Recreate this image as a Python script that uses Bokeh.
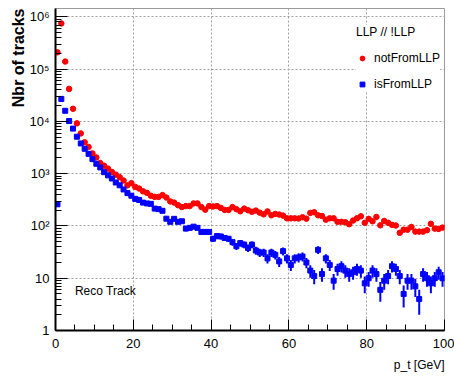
import math

from bokeh.embed import file_html
from bokeh.models import (ColumnDataSource, CustomJSTickFormatter, FixedTicker,
                          Label, Legend, LegendItem, Title)
from bokeh.plotting import figure
from bokeh.resources import INLINE

# Track p_t histograms, 1 GeV bins from 0 to 100 GeV
bin_low = list(range(100))

not_from_llp = [
    210000, 750000, 140000, 42000, 17500, 9200, 5900, 4000, 3250, 2450,
    2050, 1600, 1420, 1250, 1080, 960, 860, 740, 600, 660,
    560, 520, 460, 430, 380, 360, 360, 390, 350, 295,
    280, 250, 230, 240, 240, 270, 270, 230, 205, 240,
    236, 240, 222, 203, 203, 230, 210, 191, 215, 200,
    187, 197, 180, 167, 190, 160, 170, 165, 158, 140,
    140, 140, 139, 147, 138, 178, 183, 160, 155, 132,
    140, 140, 120, 120, 118, 108, 127, 140, 153, 115,
    137, 123, 149, 103, 125, 115, 105, 102, 74, 85,
    85, 96, 78, 78, 78, 83, 110, 89, 88, 93,
]

is_from_llp = [
    260, 27000, 16000, 10200, 7300, 5100, 3800, 3000, 2400, 1900,
    1550, 1320, 1070, 930, 810, 680, 600, 500, 425, 380,
    330, 315, 280, 270, 265, 215, 210, 195, 138, 120,
    137, 120, 123, 89, 92, 97, 92, 77, 77, 77,
    57, 64, 63, 59, 57, 49, 41, 47, 44, 38,
    44, 34, 31, 31, 24, 31, 28, 21, 33, 24,
    18, 24, 25, 26, 20, 14, 11, 35, 12, 24,
    18, 9, 15, 17, 14, 12, 13, 15, 14, 8,
    10, 14, 12, 6, 9, 11, 17, 15, 11, 5,
    9, 9, 7, 4, 12, 10, 8, 10, 13, 10,
]

x_ticks = [0, 20, 40, 60, 80, 100]
y_ticks = [1, 10, 100, 1000, 10000, 100000, 1000000]

FONT = "Liberation Sans"


def hist_source(counts):
    centers = [b + 0.5 for b in bin_low]
    err = [math.sqrt(c) for c in counts]
    return ColumnDataSource(dict(
        x=centers,
        y=counts,
        lo=[c - e for c, e in zip(counts, err)],
        hi=[c + e for c, e in zip(counts, err)],
    ))


p = figure(
    width=454, height=377,
    x_range=(0, 100), y_range=(1, 1.45e6),
    y_axis_type="log",
    output_backend="svg", toolbar_location=None,
    min_border_left=55, min_border_right=10,
    min_border_top=8, min_border_bottom=46,
    background_fill_color="white", border_fill_color="white",
)

p.outline_line_color = "#9a9a9a"
p.outline_line_width = 1

# axes in the ROOT style: ticks pointing into the frame
for ax in (p.xaxis, p.yaxis):
    ax.axis_line_width = 2
    ax.axis_line_color = "black"
    ax.major_tick_out = 0
    ax.minor_tick_out = 0
    ax.major_tick_line_color = "black"
    ax.minor_tick_line_color = "black"
    ax.major_label_text_font = FONT
    ax.major_label_text_font_size = "13px"
    ax.major_label_text_color = "black"

p.xaxis.major_tick_in = 11
p.xaxis.minor_tick_in = 6
p.xaxis.ticker = FixedTicker(ticks=x_ticks,
                             minor_ticks=[v for v in range(0, 101, 5)])
p.xaxis.major_label_standoff = 8

minor_y = [k * 10 ** d for d in range(0, 7) for k in range(2, 10)]
p.yaxis.major_tick_in = 12
p.yaxis.minor_tick_in = 6
p.yaxis.ticker = FixedTicker(ticks=y_ticks, minor_ticks=minor_y)
p.yaxis.major_label_standoff = 6
p.yaxis.formatter = CustomJSTickFormatter(code="""
    const e = Math.round(Math.log10(tick));
    if (e === 0) return "1";
    if (e === 1) return "10";
    const sup = {"0": "\u2070", "1": "\u00b9", "2": "\u00b2", "3": "\u00b3",
                 "4": "\u2074", "5": "\u2075", "6": "\u2076", "7": "\u2077",
                 "8": "\u2078", "9": "\u2079"};
    return "10" + String(e).split("").map(c => sup[c]).join("");
""")

for g in (p.xgrid, p.ygrid):
    g.grid_line_color = "#a0a0a0"
    g.grid_line_dash = "2 2"
    g.grid_line_width = 1
p.ygrid.ticker = FixedTicker(ticks=y_ticks)
p.xgrid.ticker = FixedTicker(ticks=x_ticks)

# axis titles, right-aligned as in ROOT
p.add_layout(Title(text="Nbr of tracks", align="right", text_font=FONT,
                   text_font_size="16px", text_font_style="bold",
                   text_color="black", offset=0, standoff=0), "left")
p.add_layout(Title(text="p_t [GeV]", align="right", text_font=FONT,
                   text_font_size="12px", text_font_style="normal",
                   text_color="black", standoff=11), "below")

red_src = hist_source(not_from_llp)
blue_src = hist_source(is_from_llp)

p.segment(x0="x", y0="lo", x1="x", y1="hi", source=red_src,
          line_color="#ff0000", line_width=2)
red_r = p.scatter(x="x", y="y", source=red_src, marker="circle", size=5.5,
                  fill_color="#ff0000", line_color="#ff0000")

p.segment(x0="x", y0="lo", x1="x", y1="hi", source=blue_src,
          line_color="#0000ff", line_width=2)
blue_r = p.scatter(x="x", y="y", source=blue_src, marker="square", size=5,
                   fill_color="#0000ff", line_color="#0000ff")

legend = Legend(
    items=[LegendItem(label="notFromLLP", renderers=[red_r]),
           LegendItem(label="isFromLLP", renderers=[blue_r])],
    title="LLP // !LLP",
    location=(301, 239),
    title_text_font=FONT, title_text_font_size="12px",
    title_text_font_style="normal", title_text_color="black",
    title_standoff=12,
    label_text_font=FONT, label_text_font_size="12px",
    label_text_color="black",
    glyph_width=12, glyph_height=14, label_height=14,
    label_standoff=6, spacing=12, padding=8, margin=0,
    border_line_color=None,
    background_fill_color="white", background_fill_alpha=1.0,
)
p.add_layout(legend)

p.add_layout(Label(x=5, y=5.6, text="Reco Track", text_baseline="middle",
                   text_font=FONT, text_font_size="12px",
                   text_color="black"))

open("out.html", "w").write(file_html(p, INLINE))
